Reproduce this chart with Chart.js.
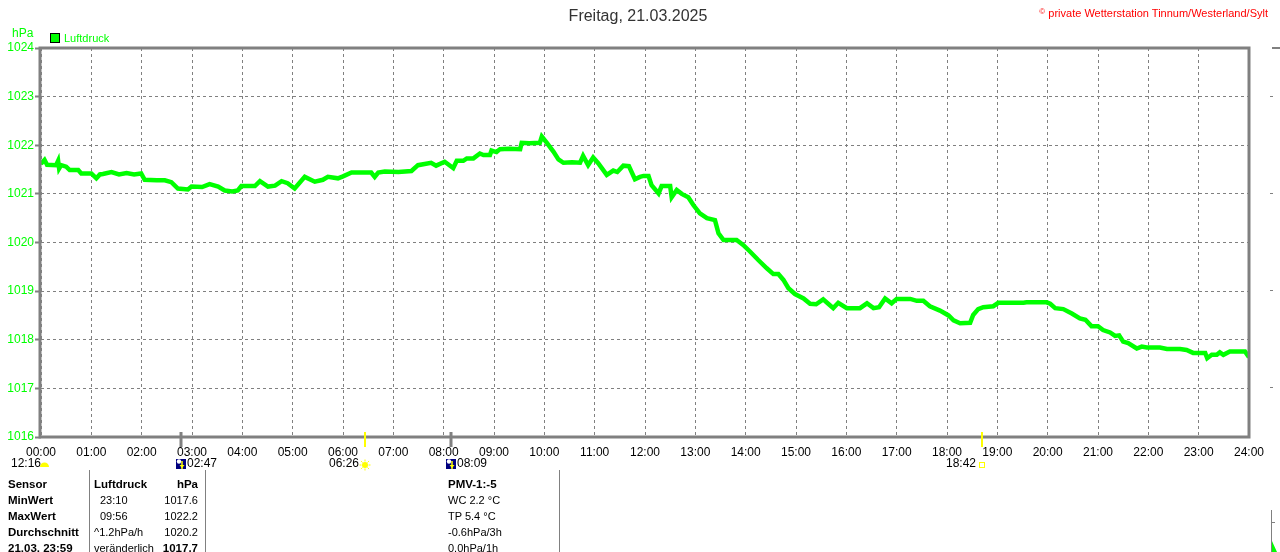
<!DOCTYPE html>
<html><head><meta charset="utf-8">
<script src="https://cdn.jsdelivr.net/npm/chart.js@4.4.1/dist/chart.umd.min.js"></script>
<style>
html,body{margin:0;padding:0;background:#fff;}
#wrap{position:relative;width:1280px;height:552px;overflow:hidden;font-family:"Liberation Sans",Arial,sans-serif;}
canvas{position:absolute;left:0;top:0;}
.t{position:absolute;white-space:nowrap;line-height:16px;font-size:11px;color:#000;}
.b{font-weight:bold;font-size:11.5px;}
.vl{position:absolute;width:1px;background:#808080;}
</style></head>
<body>
<div id="wrap">
<canvas id="c" width="1280" height="552"></canvas>
<div class="t" style="left:0;width:1276px;text-align:center;top:6px;font-size:16px;line-height:20px;color:#333;">Freitag, 21.03.2025</div>
<div class="t" style="right:12px;top:4px;font-size:11px;color:#f00;"><span style="font-size:8px;vertical-align:3px;">©</span> private Wetterstation Tinnum/Westerland/Sylt</div>
<div class="t" style="left:12px;top:25px;font-size:12px;color:#00ff00;">hPa</div>
<div style="position:absolute;left:50px;top:33px;width:8px;height:8px;background:#00ff00;border:1px solid #000;"></div>
<div class="t" style="left:64px;top:30px;font-size:11px;color:#00ff00;">Luftdruck</div>

<div class="vl" style="left:89px;top:470px;height:82px;"></div>
<div class="vl" style="left:205px;top:470px;height:82px;"></div>
<div class="vl" style="left:559px;top:470px;height:82px;"></div>

<div id="tbl"></div>

<!-- partial neighbouring chart at the right edge -->
<div style="position:absolute;left:1272px;top:47px;width:8px;height:2px;background:#808080;"></div>
<div style="position:absolute;left:1271px;top:510px;width:1px;height:42px;background:#808080;"></div>
<div style="position:absolute;left:1272px;top:522px;width:3px;height:1px;background:#808080;"></div>
<div style="position:absolute;left:1272px;top:541px;width:5px;height:11px;background:#00ff00;clip-path:polygon(0 0,40% 40%,100% 100%,0 100%);"></div>
</div>
<script>
// ---- data (time in hours, pressure in hPa) ----
const hours = [0.00,0.07,0.12,0.30,0.34,0.36,0.40,0.50,0.57,0.74,0.80,1.00,1.10,1.17,1.23,1.40,1.55,1.70,1.85,1.99,
2.06,2.30,2.46,2.59,2.72,2.92,2.99,3.20,3.35,3.52,3.65,3.80,3.91,3.98,4.25,4.35,4.51,4.65,4.78,4.90,
5.04,5.24,5.44,5.60,5.70,5.90,6.00,6.17,6.56,6.63,6.70,6.83,7.10,7.36,7.49,7.75,7.85,8.02,8.19,8.26,
8.39,8.46,8.59,8.72,8.79,8.92,8.95,9.05,9.12,9.30,9.52,9.55,9.70,9.91,9.95,10.05,10.18,10.28,10.38,10.55,
10.71,10.77,10.87,10.97,11.07,11.24,11.37,11.45,11.57,11.68,11.80,11.90,11.97,12.07,12.13,12.27,12.33,12.50,12.53,12.63,
12.73,12.86,12.96,13.09,13.23,13.39,13.46,13.56,13.82,13.95,14.09,14.25,14.42,14.55,14.65,14.75,14.85,14.98,15.15,15.28,
15.40,15.54,15.64,15.74,15.84,16.01,16.27,16.41,16.54,16.65,16.77,16.90,17.00,17.27,17.40,17.53,17.66,17.86,18.03,18.13,
18.26,18.46,18.52,18.62,18.72,18.92,19.02,19.52,19.58,19.98,20.05,20.15,20.31,20.48,20.64,20.75,20.87,21.00,21.10,21.24,
21.34,21.42,21.50,21.60,21.77,21.87,21.97,22.23,22.37,22.63,22.76,22.89,23.13,23.17,23.26,23.36,23.42,23.49,23.62,23.92,24.00];
const pressure = [1021.62,1021.70,1021.60,1021.59,1021.68,1021.52,1021.59,1021.56,1021.49,1021.49,1021.42,1021.42,1021.32,1021.40,1021.41,1021.45,1021.40,1021.43,1021.40,1021.42,
1021.29,1021.28,1021.28,1021.24,1021.11,1021.09,1021.15,1021.14,1021.20,1021.15,1021.07,1021.05,1021.07,1021.16,1021.16,1021.26,1021.15,1021.17,1021.26,1021.22,
1021.11,1021.35,1021.25,1021.29,1021.35,1021.32,1021.36,1021.44,1021.44,1021.35,1021.44,1021.46,1021.45,1021.47,1021.59,1021.64,1021.58,1021.66,1021.53,1021.68,
1021.68,1021.73,1021.73,1021.83,1021.80,1021.80,1021.89,1021.86,1021.92,1021.93,1021.92,1022.05,1022.04,1022.05,1022.18,1022.05,1021.87,1021.71,1021.64,1021.65,
1021.64,1021.78,1021.59,1021.75,1021.63,1021.39,1021.48,1021.45,1021.58,1021.57,1021.30,1021.35,1021.37,1021.37,1021.18,1021.01,1021.16,1021.16,1020.93,1021.08,
1021.00,1020.93,1020.77,1020.60,1020.50,1020.46,1020.19,1020.05,1020.05,1019.95,1019.81,1019.64,1019.47,1019.35,1019.35,1019.23,1019.06,1018.94,1018.85,1018.74,
1018.73,1018.83,1018.74,1018.65,1018.76,1018.65,1018.65,1018.75,1018.65,1018.67,1018.85,1018.75,1018.84,1018.84,1018.80,1018.80,1018.69,1018.60,1018.50,1018.40,
1018.34,1018.35,1018.51,1018.63,1018.67,1018.69,1018.76,1018.76,1018.77,1018.77,1018.74,1018.65,1018.63,1018.54,1018.44,1018.41,1018.28,1018.28,1018.20,1018.15,
1018.08,1018.09,1017.96,1017.93,1017.82,1017.86,1017.84,1017.84,1017.81,1017.81,1017.79,1017.73,1017.73,1017.62,1017.69,1017.69,1017.74,1017.69,1017.76,1017.76,1017.64];

const yMin = 1016, yMax = 1024;
const xMin = 0, xMax = 24;

// sun / moon events under the time axis
const eventTimes  = [2.783, 6.433, 8.15, 18.7];
const eventLabels = ["02:47", "06:26", "08:09", "18:42"];
const eventKinds  = ["moon", "sunrise", "moon", "sunset"];

// table rows
const tableLabels = ["Sensor","MinWert","MaxWert","Durchschnitt","21.03. 23:59"];
const tableCol2   = ["Luftdruck","23:10","09:56","^1.2hPa/h","veränderlich"];
const tableCol3   = ["hPa","1017.6","1022.2","1020.2","1017.7"];
const tableCol4   = ["PMV-1:-5","WC 2.2 °C","TP 5.4 °C","-0.6hPa/3h","0.0hPa/1h"];

// build table
(function(){
  const t = document.getElementById('tbl');
  let h = '';
  for (let i=0;i<tableLabels.length;i++){
    const top = 476 + i*16;
    h += `<div class="t b" style="left:8px;top:${top}px;">${tableLabels[i]}</div>`;
    const c2b = i===0 ? ' b' : '';
    const pad = (i===1||i===2) ? 'left:100px;' : 'left:94px;';
    h += `<div class="t${c2b}" style="${pad}top:${top}px;">${tableCol2[i]}</div>`;
    const c3b = (i===0||i===4) ? ' b' : '';
    const fs = i===4 ? 'font-size:11.5px;' : '';
    h += `<div class="t${c3b}" style="right:${1280-198}px;top:${top}px;${fs}">${tableCol3[i]}</div>`;
    const c4b = i===0 ? ' b' : '';
    h += `<div class="t${c4b}" style="left:448px;top:${top}px;">${tableCol4[i]}</div>`;
  }
  t.innerHTML = h;
})();

const GRAY = '#808080';

function drawMoonIcon(ctx, cx, cy){
  ctx.fillStyle = '#000080';
  ctx.fillRect(cx-5, cy-5, 10, 10);
  ctx.fillStyle = '#fff';
  ctx.beginPath(); ctx.arc(cx-2, cy-2.5, 2.2, 0, Math.PI*2); ctx.fill();
  ctx.strokeStyle = '#ffff00'; ctx.lineWidth = 1.5;
  ctx.beginPath(); ctx.moveTo(cx+1, cy-3); ctx.lineTo(cx+1, cy+5); ctx.stroke();
  ctx.fillStyle = '#ffff00';
  ctx.beginPath(); ctx.moveTo(cx-1.5, cy+1); ctx.lineTo(cx+3.5, cy+1); ctx.lineTo(cx+1, cy+4); ctx.fill();
}
function drawSun(ctx, cx, cy){
  ctx.strokeStyle = '#ffff00'; ctx.lineWidth = 1;
  for (let a=0;a<8;a++){
    const an = a*Math.PI/4;
    ctx.beginPath();
    ctx.moveTo(cx+Math.cos(an)*3.5, cy+Math.sin(an)*3.5);
    ctx.lineTo(cx+Math.cos(an)*5.5, cy+Math.sin(an)*5.5);
    ctx.stroke();
  }
  ctx.fillStyle = '#ffff00';
  ctx.beginPath(); ctx.arc(cx, cy, 3, 0, Math.PI*2); ctx.fill();
}

const framePlugin = {
  id: 'frame',
  afterDatasetsDraw(chart){
    const {ctx, chartArea:a, scales} = chart;
    ctx.save();
    // frame
    ctx.strokeStyle = GRAY; ctx.lineWidth = 3;
    ctx.strokeRect(a.left-1, a.top, a.right-a.left+1, a.bottom-a.top);
    // event ticks and labels
    ctx.font = '12px "Liberation Sans", Arial, sans-serif';
    ctx.textBaseline = 'middle';
    const ly = 464;
    eventTimes.forEach((t,i)=>{
      const x = Math.round(scales.x.getPixelForValue(t));
      const kind = eventKinds[i];
      const isMoon = kind === 'moon';
      ctx.strokeStyle = isMoon ? GRAY : '#ffff00';
      ctx.lineWidth = isMoon ? 3 : 2;
      ctx.beginPath(); ctx.moveTo(x, a.bottom-5); ctx.lineTo(x, a.bottom+10); ctx.stroke();
      if (isMoon){
        drawMoonIcon(ctx, x, ly);
        ctx.fillStyle = '#000';
        ctx.textAlign = 'left';
        ctx.fillText(eventLabels[i], x+6, ly);
      } else if (kind === 'sunrise'){
        drawSun(ctx, x, ly+1);
        ctx.fillStyle = '#000';
        ctx.textAlign = 'right';
        ctx.fillText(eventLabels[i], x-6, ly);
      } else {
        ctx.strokeStyle = '#ffff00'; ctx.lineWidth = 1;
        ctx.strokeRect(x-2.5, ly-1.5, 5, 5);
        ctx.fillStyle = '#000';
        ctx.textAlign = 'right';
        ctx.fillText(eventLabels[i], x-6, ly);
      }
    });
    // moon phase note at left
    ctx.fillStyle = '#000'; ctx.textAlign = 'left';
    ctx.fillText('12:16', 11, ly);
    ctx.fillStyle = '#ffff00';
    ctx.beginPath(); ctx.arc(44.5, ly+3, 4.5, Math.PI, 0); ctx.fill();
    // tiny marks of neighbouring chart
    ctx.fillStyle = GRAY;
    [1023,1021,1019,1017].forEach(v=>{
      const y = Math.round(scales.y.getPixelForValue(v)) - 1;
      ctx.fillRect(1270, y, 3, 1);
    });
    ctx.restore();
  }
};

new Chart(document.getElementById('c'), {
  type: 'line',
  data: {
    datasets: [{
      label: 'Luftdruck',
      data: hours.map((h,i)=>({x:h, y:pressure[i]})),
      borderColor: '#00ff00',
      backgroundColor: '#00ff00',
      borderWidth: 4.5,
      pointRadius: 0,
      tension: 0,
      fill: false
    }]
  },
  options: {
    responsive: false,
    animation: false,
    devicePixelRatio: 1,
    layout: {padding: {left: 0, right: 31, top: 48, bottom: 0}},
    plugins: {legend: {display: false}, title: {display: false}, tooltip: {enabled: false}},
    scales: {
      x: {
        type: 'linear', min: xMin, max: xMax,
        afterFit(s){ s.height = 115; },
        afterBuildTicks(s){ s.ticks = Array.from({length: xMax-xMin+1}, (_,i)=>({value: xMin+i})); },
        ticks: {
          autoSkip: false, maxRotation: 0, padding: 8, color: '#000',
          font: {family: '"Liberation Sans", Arial, sans-serif', size: 12},
          callback: v => String(v).padStart(2,'0') + ':00'
        },
        grid: {color: GRAY, lineWidth: 1, drawTicks: false},
        border: {display: false, dash: [3,3]}
      },
      y: {
        type: 'linear', min: yMin, max: yMax,
        afterFit(s){ s.width = 41; },
        afterBuildTicks(s){ s.ticks = Array.from({length: yMax-yMin+1}, (_,i)=>({value: yMin+i})); },
        ticks: {
          padding: 1, color: '#00ff00',
          font: {family: '"Liberation Sans", Arial, sans-serif', size: 12},
          callback: v => String(v)
        },
        grid: {color: GRAY, lineWidth: 1, tickLength: 6, tickColor: GRAY, tickWidth: 2, tickBorderDash: []},
        border: {display: false, dash: [3,3]}
      }
    }
  },
  plugins: [framePlugin]
});
</script>
</body></html>
